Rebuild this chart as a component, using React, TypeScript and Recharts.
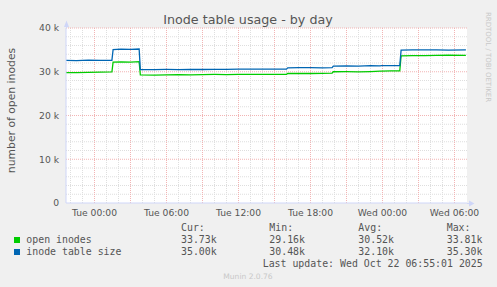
import React from "react";
import { CartesianGrid, Line, LineChart, ReferenceLine, XAxis, YAxis } from "recharts";

// hours relative to Tue 00:00
const times = [
  -2.375, -1.5, -0.5, 0.5, 1.45, 1.55, 2.2, 3.0, 3.72, 3.82, 5, 6, 7, 8, 9, 10, 11, 12, 13, 14,
  15, 16.0, 16.1, 17, 18, 19, 19.8, 19.9, 21, 22, 23, 23.8, 23.9, 24.7, 25.44, 25.55, 26.5, 27.5,
  28.5, 29.5, 30.95,
];
const openInodes = [
  29800, 29780, 29850, 29900, 29950, 32200, 32250, 32200, 32300, 29300, 29250, 29300, 29350, 29300,
  29350, 29380, 29350, 29400, 29380, 29400, 29420, 29400, 29600, 29650, 29600, 29650, 29700, 30000,
  30020, 29980, 30050, 30150, 30150, 30180, 30200, 33650, 33680, 33700, 33750, 33780, 33730,
];
const tableSize = [
  32600, 32550, 32650, 32600, 32620, 35050, 35150, 35100, 35200, 30500, 30480, 30520, 30500, 30550,
  30520, 30560, 30540, 30600, 30580, 30600, 30620, 30600, 30900, 30920, 30950, 30900, 30950, 31300,
  31350, 31300, 31400, 31350, 31400, 31420, 31400, 34950, 35000, 34980, 35000, 34950, 35000,
];

const xTicks = [0, 6, 12, 18, 24, 30];
const xTickLabels = ["Tue 00:00", "Tue 06:00", "Tue 12:00", "Tue 18:00", "Wed 00:00", "Wed 06:00"];
const yTicks = [0, 10000, 20000, 30000, 40000];
const minorHours = [-2, -1, 1, 2, 4, 5, 7, 8, 10, 11, 13, 14, 16, 17, 19, 20, 22, 23, 25, 26, 28, 29];
const majorHours = [0, 3, 6, 9, 12, 15, 18, 21, 24, 27, 30];
const minorY = [2000, 4000, 6000, 8000, 12000, 14000, 16000, 18000, 22000, 24000, 26000, 28000, 32000, 34000, 36000, 38000];
const majorY = [10000, 20000, 30000, 40000];

const seriesNames = ["open inodes", "inode table size"];
const seriesColors = ["#00cc00", "#0066b3"];
const statHeaders = ["Cur:", "Min:", "Avg:", "Max:"];
const openStats = ["33.73k", "29.16k", "30.52k", "33.81k"];
const sizeStats = ["35.00k", "30.48k", "32.10k", "35.30k"];

const data = times.map((t, i) => ({ t, open: openInodes[i], size: tableSize[i] }));

const SANS = "'DejaVu Sans', sans-serif";
const MONO = "'DejaVu Sans Mono', monospace";
const AXIS = "#cfd6f8";
const TEXT = "#555";
const statX = [181, 269.3, 358.3, 446.7];

export default function App() {
  const tick = { fill: TEXT, fontSize: 9.2, fontFamily: SANS };
  return (
    <div style={{ position: "fixed", left: 0, top: 0, width: 497, height: 287, background: "#f0f0f0" }}>
      <LineChart width={497} height={287} data={data} margin={{ top: 28, right: 30, bottom: 64, left: 10 }}>
        <CartesianGrid fill="#ffffff" stroke="none" horizontal={false} vertical={false} />
        {minorHours.map((h) => (
          <ReferenceLine key={"vh" + h} x={h} stroke="#dedede" strokeDasharray="1 1" />
        ))}
        {minorY.map((v) => (
          <ReferenceLine key={"hy" + v} y={v} stroke="#dedede" strokeDasharray="1 1" />
        ))}
        {majorHours.map((h) => (
          <ReferenceLine key={"mh" + h} x={h} stroke="#f2b4b4" strokeDasharray="1 1" />
        ))}
        {majorY.map((v) => (
          <ReferenceLine key={"my" + v} y={v} stroke="#f2b4b4" strokeDasharray="1 1" />
        ))}
        <XAxis
          dataKey="t"
          type="number"
          domain={[-2.375, 31.0417]}
          ticks={xTicks}
          interval={0}
          tickFormatter={(v: number) => xTickLabels[xTicks.indexOf(v)]}
          tick={tick}
          tickLine={false}
          tickMargin={0}
          axisLine={{ stroke: AXIS }}
          height={20}
        />
        <YAxis
          domain={[0, 40000]}
          ticks={yTicks}
          interval={0}
          tickFormatter={(v: number) => (v === 0 ? "0" : `${v / 1000} k`)}
          tick={tick}
          tickLine={false}
          tickMargin={1}
          axisLine={{ stroke: AXIS }}
          width={56}
        />
        <Line type="linear" dataKey="open" stroke={seriesColors[0]} strokeWidth={1.3} dot={false} isAnimationActive={false} />
        <Line type="linear" dataKey="size" stroke={seriesColors[1]} strokeWidth={1.3} dot={false} isAnimationActive={false} />
      </LineChart>
      <svg width={497} height={287} style={{ position: "absolute", left: 0, top: 0, pointerEvents: "none" }}>
        {/* axis arrows */}
        <line x1={66.5} y1={22} x2={66.5} y2={28} stroke={AXIS} />
        <polygon points="64,27 69,27 66.5,20.5" fill={AXIS} />
        <line x1={467} y1={203.5} x2={470} y2={203.5} stroke={AXIS} />
        <polygon points="469,200.5 469,206.5 474.5,203.5" fill={AXIS} />
        <text x={248} y={24} textAnchor="middle" fontFamily={SANS} fontSize={12.7} fill={TEXT}>
          Inode table usage - by day
        </text>
        <text transform="translate(15.3,110.5) rotate(-90)" textAnchor="middle" fontFamily={SANS} fontSize={10.8} fill={TEXT}>
          number of open inodes
        </text>
        <text transform="translate(485.5,57) rotate(90)" textAnchor="middle" fontFamily={SANS} fontSize={7} fill="#c8c8c8">
          RRDTOOL / TOBI OETIKER
        </text>
        {statHeaders.map((h, i) => (
          <text key={h} x={statX[i]} y={231} fontFamily={MONO} fontSize={9.9} fill={TEXT}>
            {h}
          </text>
        ))}
        {[openStats, sizeStats].map((row, r) => (
          <g key={r}>
            <rect x={14} y={237 + r * 12} width={6} height={6} fill={seriesColors[r]} />
            <text x={26.3} y={243 + r * 12} fontFamily={MONO} fontSize={9.9} fill={TEXT}>
              {seriesNames[r]}
            </text>
            {row.map((s, i) => (
              <text key={i} x={statX[i]} y={243 + r * 12} fontFamily={MONO} fontSize={9.9} fill={TEXT}>
                {s}
              </text>
            ))}
          </g>
        ))}
        <text x={482.7} y={267} textAnchor="end" fontFamily={MONO} fontSize={9.9} fill={TEXT}>
          Last update: Wed Oct 22 06:55:01 2025
        </text>
        <text x={248} y={279} textAnchor="middle" fontFamily={SANS} fontSize={7.55} fill="#c8c8c8">
          Munin 2.0.76
        </text>
      </svg>
    </div>
  );
}
